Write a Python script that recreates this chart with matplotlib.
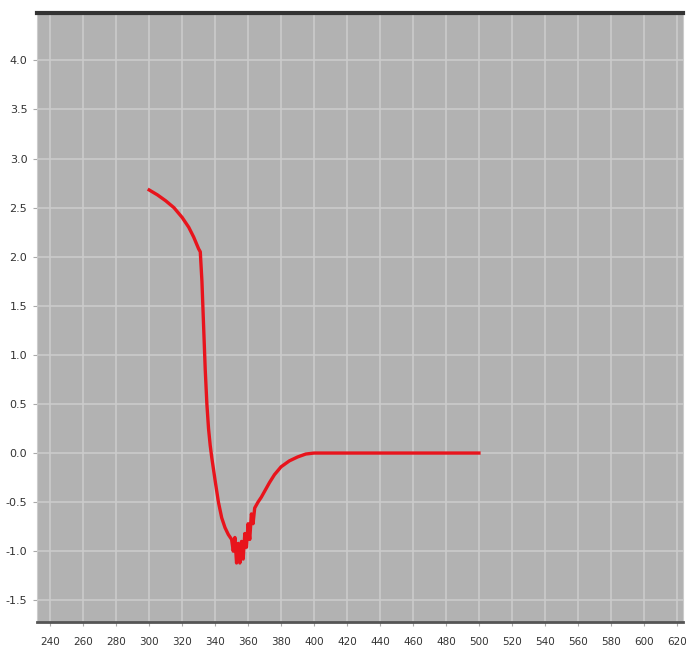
import matplotlib.pyplot as plt

# wavelength (nm) and signal
wavelength = [300, 305, 310, 315, 320, 324, 327, 330, 331, 332, 333, 334, 335,
              336, 337, 338, 340, 342, 344, 346, 348, 350, 351, 352, 353, 354,
              355, 356, 357, 358, 359, 360, 361, 362, 363, 364, 366, 368, 370,
              373, 376, 380, 385, 390, 395, 400, 420, 450, 480, 500]
signal = [2.68, 2.63, 2.57, 2.50, 2.40, 2.30, 2.20, 2.08, 2.05, 1.75, 1.30,
          0.85, 0.50, 0.25, 0.08, -0.05, -0.28, -0.50, -0.66, -0.76, -0.83,
          -0.88, -1.00, -0.86, -1.12, -0.92, -1.12, -0.90, -1.08, -0.82,
          -0.96, -0.72, -0.88, -0.62, -0.72, -0.56, -0.50, -0.45, -0.39,
          -0.30, -0.22, -0.14, -0.08, -0.04, -0.01, 0.0, 0.0, 0.0, 0.0, 0.0]

x_ticks = list(range(240, 621, 20))
y_ticks = [-1.5, -1.0, -0.5, 0.0, 0.5, 1.0, 1.5, 2.0, 2.5, 3.0, 3.5, 4.0]


def plot_data():
    fig = plt.figure(figsize=(6.86, 6.63), dpi=100)
    ax = fig.add_axes([0.054, 0.062, 0.941, 0.918])
    ax.set_facecolor('#b2b2b2')

    ax.plot(wavelength, signal, color='#e8141c', linewidth=2.4,
            solid_joinstyle='round')

    ax.set_xlim(232, 623.5)
    ax.set_ylim(-1.72, 4.48)
    ax.set_xticks(x_ticks)
    ax.set_yticks(y_ticks)
    ax.set_yticklabels([f'{v:.1f}' for v in y_ticks])
    ax.tick_params(labelsize=8, length=3, color='#aaaaaa', labelcolor='#333333')
    ax.tick_params(axis='x', pad=8, labelsize=7.5)
    ax.tick_params(axis='y', pad=4)

    ax.grid(True, color='#cbcbcb', linewidth=1.2)
    ax.set_axisbelow(True)

    ax.spines['top'].set_color('#333333')
    ax.spines['top'].set_linewidth(3)
    ax.spines['bottom'].set_color('#555555')
    ax.spines['bottom'].set_linewidth(2)
    ax.spines['left'].set_color('#cccccc')
    ax.spines['right'].set_color('#cccccc')

    fig.savefig('out.png', dpi=100)


plot_data()
